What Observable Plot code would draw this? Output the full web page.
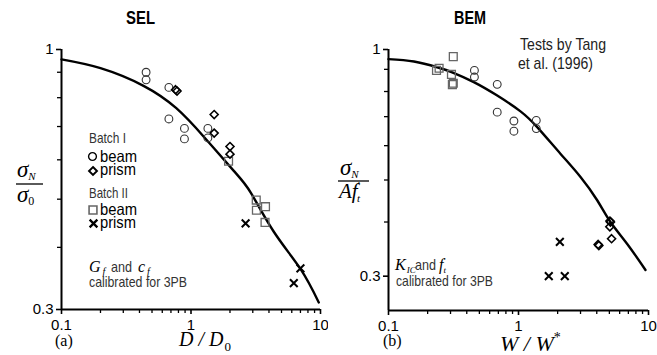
<!DOCTYPE html>
<html>
<head>
<meta charset="utf-8">
<script src="https://cdn.jsdelivr.net/npm/d3@7"></script>
<script src="https://cdn.jsdelivr.net/npm/@observablehq/plot@0.6"></script>
<style>
  html, body { margin: 0; padding: 0; background: #fff; }
  #wrap { display: flex; width: 657px; height: 355px; overflow: hidden; }
  #wrap svg { display: block; flex: none; }
</style>
</head>
<body>
<div id="wrap"></div>
<script>
// Ticks shared by both log-log panels
const xMajor = [0.1, 1, 10];
const xMajorLabels = ["0.1", "1", "10"];
const xMinor = [0.2, 0.3, 0.4, 0.5, 0.6, 0.7, 0.8, 0.9, 2, 3, 4, 5, 6, 7, 8, 9];
const yMajor = [0.3, 1];
const yMajorLabels = ["0.3", "1"];
const yMinor = [0.4, 0.5, 0.6, 0.7, 0.8, 0.9];

// (a) SEL: sigma_N / sigma_0 against D / D0
const selCurveX = [0.1, 0.2, 0.43, 0.77, 1.26, 2.14, 2.9, 4.36, 7.0, 9.7];
const selCurveY = [0.955, 0.917, 0.845, 0.762, 0.667, 0.570, 0.515, 0.430, 0.362, 0.310];
const selBeamIX = [0.45, 0.45, 0.675, 0.675, 0.89, 0.89, 1.35, 1.35];
const selBeamIY = [0.900, 0.869, 0.839, 0.725, 0.694, 0.661, 0.694, 0.664];
const selPrismIX = [0.76, 0.78, 1.51, 1.51, 2.0, 2.0];
const selPrismIY = [0.830, 0.825, 0.740, 0.679, 0.638, 0.616];
const selBeamIIX = [1.95, 3.19, 3.76, 3.2, 3.73];
const selBeamIIY = [0.596, 0.498, 0.483, 0.475, 0.449];
const selPrismIIX = [2.64, 7.0, 6.22];
const selPrismIIY = [0.447, 0.363, 0.339];

// (b) BEM: sigma_N / (A f't) against W / W*
const bemCurveX = [0.1, 0.157, 0.237, 0.309, 0.453, 0.686, 1.036, 1.393, 2.10, 3.0, 4.03, 5.1, 6.86, 9.48];
const bemCurveY = [0.950, 0.938, 0.910, 0.886, 0.841, 0.783, 0.720, 0.662, 0.575, 0.508, 0.449, 0.400, 0.356, 0.310];
const bemBeamIX = [0.458, 0.458, 0.686, 0.686, 0.922, 0.922, 1.37, 1.37];
const bemBeamIY = [0.895, 0.864, 0.831, 0.717, 0.684, 0.648, 0.686, 0.657];
const bemPrismIX = [5.1, 5.05, 5.04, 5.2, 4.15, 4.1];
const bemPrismIY = [0.400, 0.402, 0.390, 0.366, 0.353, 0.355];
const bemBeamIIX = [0.315, 0.234, 0.245, 0.305, 0.315, 0.31];
const bemBeamIIY = [0.963, 0.895, 0.905, 0.876, 0.836, 0.830];
const bemPrismIIX = [2.08, 1.71, 2.27];
const bemPrismIIY = [0.360, 0.300, 0.300];

const SANS = "'Liberation Sans', Arial, Helvetica, sans-serif";
const SERIF = "'Liberation Serif', 'Times New Roman', 'DejaVu Serif', serif";

const rows = (xs, ys) => xs.map((x, i) => ({x, y: ys[i]}));

// Marker styles for the four specimen groups
const groups = {
  beamI:   {symbol: "circle",   r: 3.9, stroke: "#333", strokeWidth: 1.1},
  prismI:  {symbol: "diamond2", r: 3.6, stroke: "#000", strokeWidth: 1.6},
  beamII:  {symbol: "square2",  r: 5.0, stroke: "#666", strokeWidth: 1.3},
  prismII: {symbol: "times",    r: 3.6, stroke: "#000", strokeWidth: 2}
};

function panel({width, marginLeft, marginRight, marginBottom, yDomain, curve, sets}) {
  return Plot.plot({
    width, height: 355,
    marginTop: 49, marginLeft, marginRight, marginBottom,
    x: {type: "log", domain: [0.1, 10], label: null},
    y: {type: "log", domain: yDomain, label: null},
    style: {fontFamily: SANS, fontSize: "15px", color: "#000", background: "#fff", overflow: "visible"},
    marks: [
      Plot.axisX({ticks: xMinor, tickSize: 4, tickFormat: () => "", strokeWidth: 1.3, label: null}),
      Plot.axisX({ticks: xMajor, tickSize: 5, tickPadding: 5, strokeWidth: 1.6, fontSize: 15,
        tickFormat: d => xMajorLabels[xMajor.indexOf(d)], label: null}),
      Plot.axisY({ticks: yMinor, tickSize: 4, tickFormat: () => "", strokeWidth: 1.3, label: null}),
      Plot.axisY({ticks: yMajor, tickSize: 5, tickPadding: 3, strokeWidth: 1.6, fontSize: 15,
        tickFormat: d => yMajorLabels[yMajor.indexOf(d)], label: null}),
      Plot.ruleX([0.1], {stroke: "#000", strokeWidth: 2}),
      Plot.ruleY([yDomain[0]], {stroke: "#000", strokeWidth: 2}),
      Plot.line(curve, {x: "x", y: "y", curve: "natural", stroke: "#000", strokeWidth: 2.4}),
      ...Object.entries(sets).map(([k, data]) =>
        Plot.dot(data, {x: "x", y: "y", fill: "none", ...groups[k]}))
    ]
  });
}

const left = panel({
  width: 328, marginLeft: 61, marginRight: 8, marginBottom: 46, yDomain: [0.3, 1],
  curve: rows(selCurveX, selCurveY),
  sets: {
    beamII: rows(selBeamIIX, selBeamIIY),
    beamI: rows(selBeamIX, selBeamIY),
    prismI: rows(selPrismIX, selPrismIY),
    prismII: rows(selPrismIIX, selPrismIIY)
  }
});

const right = panel({
  width: 329, marginLeft: 60, marginRight: 9, marginBottom: 45, yDomain: [0.25, 1],
  curve: rows(bemCurveX, bemCurveY),
  sets: {
    beamII: rows(bemBeamIIX, bemBeamIIY),
    beamI: rows(bemBeamIX, bemBeamIY),
    prismI: rows(bemPrismIX, bemPrismIY),
    prismII: rows(bemPrismIIX, bemPrismIIY)
  }
});

const wrap = document.getElementById("wrap");
wrap.append(left, right);

// Rich text with sub/superscripts: parts carry their own font and baseline shift
function rich(svg, x, y, parts, opts = {}) {
  const t = d3.select(svg).append("text")
    .attr("x", x).attr("y", y).attr("text-anchor", opts.anchor || "start");
  if (opts.len) t.attr("textLength", opts.len).attr("lengthAdjust", "spacingAndGlyphs");
  let shift = 0;
  for (const p of parts) {
    const s = t.append("tspan").text(p.text)
      .attr("font-family", p.serif ? SERIF : SANS)
      .attr("font-size", p.size)
      .attr("fill", p.fill || "#000");
    if (p.italic) s.attr("font-style", "italic");
    if (p.bold) s.attr("font-weight", "bold");
    const target = p.shift || 0;
    if (target !== shift) { s.attr("dy", target - shift); shift = target; }
    if (p.dx) s.attr("dx", p.dx);
  }
  return t;
}
// Plain condensed sans label, squeezed to a set width
function label(svg, x, y, text, size, len, fill = "#000", bold = false) {
  return rich(svg, x, y, [{text, size, fill, bold}], {len});
}
function hline(svg, x1, x2, y) {
  d3.select(svg).append("line").attr("x1", x1).attr("x2", x2).attr("y1", y).attr("y2", y)
    .attr("stroke", "#000").attr("stroke-width", 1.3);
}
function key(svg, group, cx, cy) {
  const g = groups[group];
  const sym = {circle: d3.symbolCircle, diamond2: d3.symbolDiamond2, square2: d3.symbolSquare2, times: d3.symbolTimes}[g.symbol];
  d3.select(svg).append("path")
    .attr("transform", `translate(${cx},${cy})`)
    .attr("d", d3.symbol(sym, Math.PI * g.r * g.r)())
    .attr("fill", "none").attr("stroke", g.stroke === "#333" ? "#000" : g.stroke)
    .attr("stroke-width", g.strokeWidth + 0.3);
}

// ---- panel (a) ----
label(left, 126, 24, "SEL", 18, 29, "#000", true);
rich(left, 17, 177, [
  {text: "σ", serif: true, italic: true, size: 23},
  {text: "N", serif: true, italic: true, size: 11, shift: 3}
]);
hline(left, 16, 43, 184);
rich(left, 17, 202, [
  {text: "σ", serif: true, italic: true, size: 23},
  {text: "0", serif: true, size: 12, shift: 3}
]);
rich(left, 179, 346, [
  {text: "D", serif: true, italic: true, size: 20},
  {text: " / ", serif: true, italic: true, size: 20},
  {text: "D", serif: true, italic: true, size: 20},
  {text: "0", serif: true, size: 13, shift: 5, dx: 1}
]);
rich(left, 55, 346, [{text: "(a)", serif: true, size: 16}]);

label(left, 89, 143, "Batch I", 15, 37, "#333");
key(left, "beamI", 92.5, 156.5);
label(left, 100, 162, "beam", 16.5, 37);
key(left, "prismI", 93, 171);
label(left, 100, 175, "prism", 16.5, 36);
label(left, 89, 198, "Batch II", 15, 39, "#333");
key(left, "beamII", 93, 210);
label(left, 100, 215, "beam", 16.5, 37);
key(left, "prismII", 93.5, 223.5);
label(left, 100, 228, "prism", 16.5, 36);

rich(left, 89, 272, [
  {text: "G", serif: true, italic: true, size: 16},
  {text: "f", serif: true, italic: true, size: 10, shift: 3, dx: 2}
]);
label(left, 111, 272, "and", 15, 21, "#333");
rich(left, 138, 272, [
  {text: "c", serif: true, italic: true, size: 16},
  {text: "f", serif: true, italic: true, size: 10, shift: 3, dx: 2}
]);
label(left, 89, 287, "calibrated for 3PB", 15, 98, "#333");

// ---- panel (b) ----
label(right, 126, 24, "BEM", 18, 32, "#000", true);
label(right, 192, 50, "Tests by Tang", 17, 86, "#222");
label(right, 190, 69, "et al. (1996)", 17, 75, "#222");
rich(right, 12, 175, [
  {text: "σ", serif: true, italic: true, size: 23},
  {text: "N", serif: true, italic: true, size: 11, shift: 3}
]);
hline(right, 10, 41, 181);
rich(right, 11, 198, [
  {text: "Af", serif: true, italic: true, size: 21},
  {text: "′", serif: true, size: 11, shift: -9},
  {text: "t", serif: true, italic: true, size: 11, shift: 4, dx: -3}
]);
rich(right, 172, 351, [
  {text: "W", serif: true, italic: true, size: 22},
  {text: " / ", serif: true, italic: true, size: 22},
  {text: "W", serif: true, italic: true, size: 22},
  {text: "*", serif: true, size: 14, shift: -9}
]);
rich(right, 55, 346, [{text: "(b)", serif: true, size: 16}]);
rich(right, 67, 270, [
  {text: "K", serif: true, italic: true, size: 16},
  {text: "IC", serif: true, italic: true, size: 9, shift: 3, dx: 1}
]);
label(right, 87, 270, "and", 15, 21, "#333");
rich(right, 111, 270, [
  {text: "f", serif: true, italic: true, size: 16},
  {text: "′", serif: true, size: 9, shift: -6},
  {text: "t", serif: true, italic: true, size: 9, shift: 3, dx: -2}
]);
label(right, 68, 286, "calibrated for 3PB", 15, 97, "#333");
</script>
</body>
</html>
